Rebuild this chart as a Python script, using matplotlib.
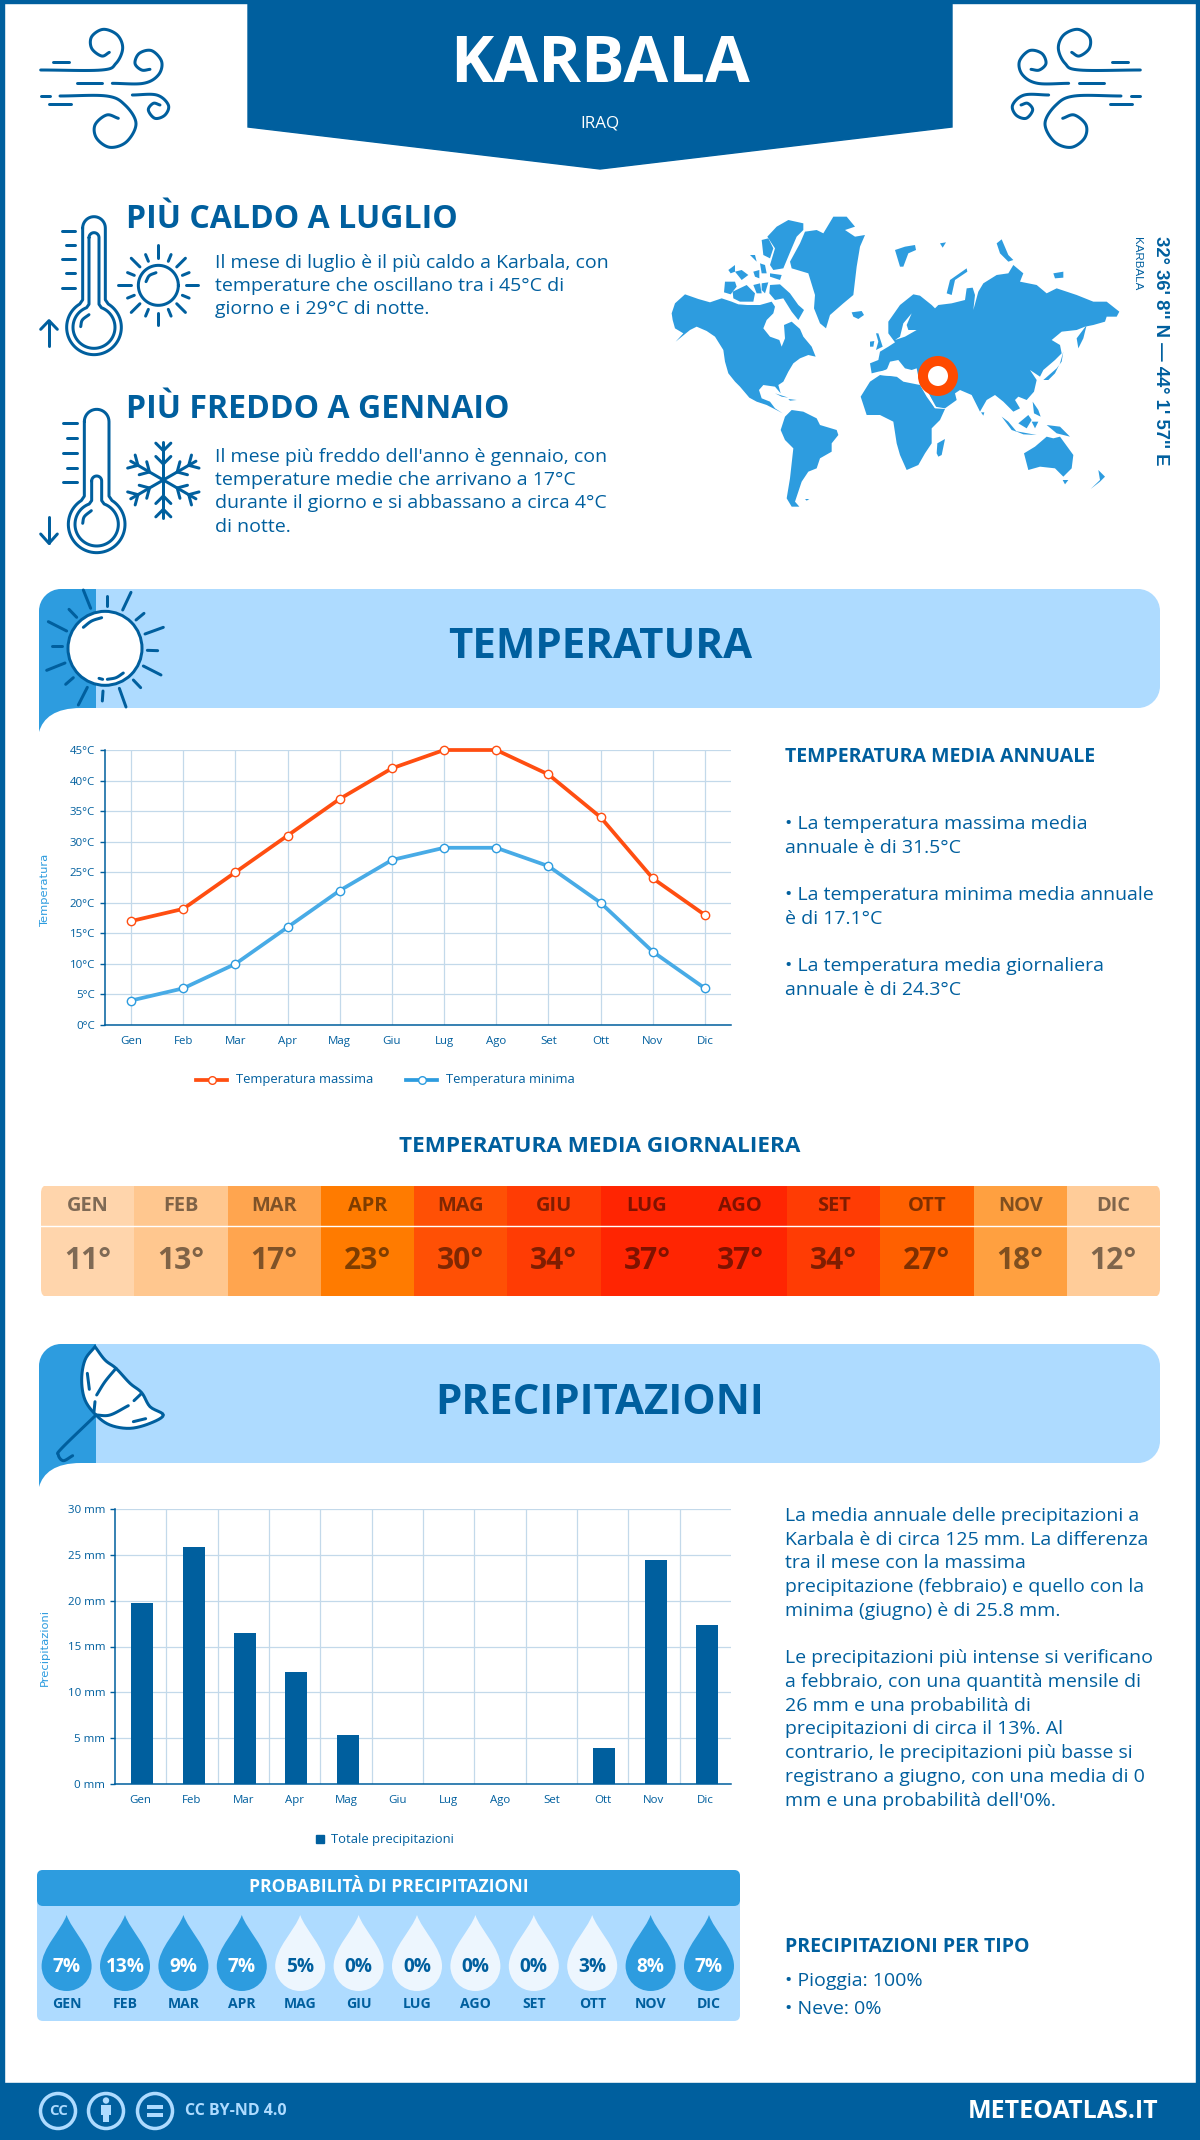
import numpy as np
import matplotlib
matplotlib.use('Agg')
import matplotlib.pyplot as plt
from matplotlib.patches import Polygon, Rectangle, Circle, FancyBboxPatch, PathPatch
from matplotlib.path import Path

plt.rcParams['font.family'] = ['Open Sans', 'DejaVu Sans']

W, H = 1200, 2140
NAVY = '#005F9E'; BLUE = '#2D9CDF'; LIGHT = '#AEDBFF'; ORANGE = '#FF4E11'; GRID = '#C3D9EA'

months = ['Gen','Feb','Mar','Apr','Mag','Giu','Lug','Ago','Set','Ott','Nov','Dic']
months_upper = [m.upper() for m in months]
temp_max = [17,19,25,31,37,42,45,45,41,34,24,18]
temp_min = [4,6,10,16,22,27,29,29,26,20,12,6]
temp_avg = [11,13,17,23,30,34,37,37,34,27,18,12]
avg_colors = ['#FFD5AC','#FFC78F','#FFA54F','#FF7B00','#FF5005','#FF3C04','#FF2502','#FF2502','#FF3C04','#FF6000','#FFA040','#FFCC99']
precip = [19.8,25.9,16.5,12.2,5.4,0,0,0,0,3.9,24.4,17.3]
precip_prob = [7,13,9,7,5,0,0,0,0,3,8,7]

fig = plt.figure(figsize=(12, 21.4), dpi=100, facecolor='white')
L = fig.add_axes([0, 0, 1, 1]); L.set_xlim(0, W); L.set_ylim(H, 0); L.axis('off')

def px(v): return v * 0.72
def T(x, y, s, size, color=NAVY, weight='normal', ha='left', va='center', **k):
    return L.text(x, y, s, fontsize=px(size), color=color, fontweight=weight, ha=ha, va=va, **k)

def smooth(pts, n=12):
    p = np.array(pts, float)
    if len(p) < 3: return p
    q = np.vstack([2*p[0]-p[1], p, 2*p[-1]-p[-2]])
    out = []
    for i in range(1, len(q)-2):
        for t in np.linspace(0, 1, n, endpoint=False):
            a, b, c, d = q[i-1], q[i], q[i+1], q[i+2]
            out.append(0.5*((2*b)+(-a+c)*t+(2*a-5*b+4*c-d)*t**2+(-a+3*b-3*c+d)*t**3))
    out.append(p[-1])
    return np.array(out)

def crop(pts, ox, oy): return [(ox + x/3, oy + y/3) for x, y in pts]
def stroke(pts, ox=0, oy=0, lw=3, color=NAVY, curved=True, z=3):
    pp = crop(pts, ox, oy)
    a = smooth(pp) if curved else np.array(pp)
    L.plot(a[:,0], a[:,1], color=color, lw=px(lw), solid_capstyle='round', solid_joinstyle='round', zorder=z)

# frame and header
L.add_patch(Rectangle((0, 0), W, 3, color=NAVY))
L.add_patch(Rectangle((0, 0), 4, H, color=NAVY))
L.add_patch(Rectangle((W-4, 0), 4, H, color=NAVY))
L.add_patch(Rectangle((0, 2083), W, 57, color=NAVY))
L.add_patch(Polygon([(248,0),(952,0),(952,127),(600,169),(248,127)], color=NAVY))
T(600, 65, 'KARBALA', 65, 'white', 'bold', ha='center')
T(600, 124, 'IRAQ', 17, 'white', ha='center')

# wind icons
wind = [
 [(32,150),(215,150),(258,130),(278,85),(262,45),(220,28),(185,50),(185,85),(215,108),(238,97)],
 [(70,125),(118,125)], [(140,190),(215,190)],
 [(247,190),(340,190),(385,165),(395,125),(365,92),(328,100),(315,130),(335,150),(360,148)],
 [(32,228),(60,228)],
 [(90,228),(230,228),(285,255),(318,310),(290,365),(240,382),(200,355),(195,315),(230,285),(265,295)],
 [(57,253),(122,253)],
 [(307,225),(380,225),(415,255),(405,285),(375,295),(355,270),(370,250),(390,255)],
]
for s in wind:
    stroke(s, 30, 20)
    m = [(3*(1181-(30+x/3)), y) for x, y in s]
    stroke(m, 0, 20)

# thermometers
def thermo(cx, cy, R, hw, ytop, ox, oy):
    a = np.arcsin(hw/R)
    yj = cy - R*np.cos(a) - 8
    th = np.linspace(np.pi, 0, 20)
    top = [(cx+hw*np.cos(t), ytop+hw-hw*np.sin(t)) for t in th]
    ang = np.linspace(-np.pi/2+a+0.12, 1.5*np.pi-a-0.12, 70)
    bulb = [(cx+R*np.cos(t), cy+R*np.sin(t)) for t in ang]
    pts = top + [(cx+hw, yj)] + bulb + [(cx-hw, yj)] + [top[0]]
    stroke(pts, ox, oy, curved=False)
def ticks(ys, ox, oy, x2, lens):
    for y, l in zip(ys, lens):
        stroke([(x2-l, y), (x2, y)], ox, oy, curved=False)

thermo(192, 352, 82, 34, 20, 30, 210)
thermo(192, 352, 63, 15, 68, 30, 210)
stroke([(152,350),(157,330),(177,314)], 30, 210)
ticks([63,105,148,190,233], 30, 210, 135, [38,28,38,28,38])
stroke([(57,408),(57,332)], 30, 210, curved=False)
stroke([(32,358),(57,332),(82,358)], 30, 210, curved=False)
c = (385, 226)
th = np.linspace(0, 2*np.pi, 60)
stroke([(c[0]+60*np.cos(t), c[1]+60*np.sin(t)) for t in th], 30, 210, curved=False)
stroke([(348,215),(358,197),(378,188)], 30, 210)
for i in range(16):
    a = i*np.pi/8
    if i % 4 == 0: r1, r2 = 82, 120
    elif i % 2 == 0: r1, r2 = 78, 115
    else: r1, r2 = 78, 100
    stroke([(c[0]+r1*np.cos(a), c[1]+r1*np.sin(a)), (c[0]+r2*np.cos(a), c[1]+r2*np.sin(a))], 30, 210, curved=False)

thermo(200, 373, 85, 37, 28, 30, 400)
thermo(200, 373, 65, 15, 228, 30, 400)
stroke([(158,370),(163,350),(184,332)], 30, 400)
ticks([70,115,159,203,247], 30, 400, 140, [40,28,40,28,40])
stroke([(57,350),(57,430)], 30, 400, curved=False)
stroke([(32,402),(57,430),(82,402)], 30, 400, curved=False)
sc = (400, 240)
for i in range(6):
    a = np.pi/2 + i*np.pi/3
    u = np.array([np.cos(a), np.sin(a)])
    stroke([sc, tuple(np.array(sc)+113*u)], 30, 400, curved=False)
    for r, l in [(88, 32), (48, 32)]:
        b = np.array(sc)+r*u
        for s in (-1, 1):
            v = np.array([np.cos(a+s*np.pi/4), np.sin(a+s*np.pi/4)])
            stroke([tuple(b), tuple(b+l*v)], 30, 400, curved=False)

# headings
T(125.5, 220, 'PIÙ CALDO A LUGLIO', 32, weight='bold')
for y, s in zip([263,286,309], ['Il mese di luglio è il più caldo a Karbala, con',
                                'temperature che oscillano tra i 45°C di',
                                'giorno e i 29°C di notte.']):
    T(215, y, s, 19.5)
T(125.5, 410, 'PIÙ FREDDO A GENNAIO', 32, weight='bold')
for y, s in zip([457,480,503,527], ["Il mese più freddo dell'anno è gennaio, con",
                                    'temperature medie che arrivano a 17°C',
                                    'durante il giorno e si abbassano a circa 4°C',
                                    'di notte.']):
    T(215, y, s, 19.5)

# world map
M = '#2D9CDF'
west = [
 [(35,325),(45,295),(75,268),(115,282),(150,292),(185,280),(215,290),(235,298),(262,300),(300,300),(335,290),(345,305),(340,325),(320,345),(310,370),(330,395),(358,405),(365,425),(375,400),(372,360),(395,350),(420,372),(430,395),(455,425),(467,455),(445,450),(420,460),(400,475),(385,500),(370,530),(355,540),(362,565),(345,545),(310,540),(297,555),(305,580),(330,590),(345,610),(368,625),(355,618),(320,600),(290,590),(268,578),(240,545),(225,530),(205,505),(195,470),(190,435),(165,395),(140,378),(110,365),(90,375),(47,410),(70,385),(45,370),(38,345)],
 [(362,675),(375,635),(395,615),(430,620),(470,640),(480,660),(530,675),(535,690),(515,715),(515,740),(480,760),(470,790),(445,800),(425,830),(415,860),(405,890),(418,905),(395,905),(380,880),(390,820),(400,730),(375,705)],
 [(390,170),(420,115),(435,80),(470,75),(490,85),(520,35),(560,35),(585,65),(555,75),(585,95),(615,90),(600,125),(590,185),(580,270),(550,295),(510,330),(498,370),(480,355),(462,310),(465,270),(445,205),(395,190)],
 [(322,95),(350,65),(385,45),(430,55),(430,75),(410,95),(395,130),(370,190),(340,195),(330,180),(345,130),(335,115)],
 [(330,240),(360,238),(390,265),(415,300),(432,315),(415,345),(395,320),(370,280),(345,285),(328,265)],
 [(218,260),(260,240),(285,265),(280,290),(240,290),(220,280)],
 [(195,230),(225,230),(230,245),(212,268),(192,262)],
 [(205,195),(225,180),(225,200),(212,205)], [(225,200),(245,195),(265,210),(245,225)],
 [(280,200),(298,195),(298,220),(285,215)], [(305,235),(325,232),(315,265),(305,255)],
 [(280,240),(300,235),(305,265),(290,265)], [(305,105),(325,100),(340,130),(330,160),(310,150)],
 [(330,205),(365,210),(360,225),(330,215)], [(270,150),(285,150),(290,170)], [(300,175),(315,180),(320,205),(305,205)],
 [(575,322),(605,318),(612,330),(595,342),(580,335)],
 [(345,565),(385,578),(365,575)], [(385,582),(410,585),(390,587)], [(435,882),(448,882),(440,887)],
 [(648,385),(655,385),(668,425),(648,435),(655,410)], [(630,410),(643,408),(640,425),(630,425)],
]
east = [
 [(-30,475),(-5,465),(0,440),(25,425),(45,412),(25,385),(25,350),(60,300),(100,268),(120,272),(155,300),(165,310),(175,300),(215,295),(255,285),(260,250),(278,248),(285,270),(280,315),(295,260),(310,235),(350,210),(385,205),(400,180),(430,205),(420,230),(470,240),(500,265),(530,250),(590,270),(640,290),(680,290),(718,320),(710,335),(680,335),(675,350),(640,360),(615,365),(590,375),(545,380),(515,405),(540,420),(545,445),(525,465),(490,495),(480,515),(450,495),(470,525),(462,560),(440,585),(415,575),(405,585),(420,610),(400,620),(385,605),(370,590),(345,570),(320,585),(300,620),(275,570),(240,555),(225,565),(230,585),(195,610),(165,605),(145,565),(120,540),(110,490),(95,495),(75,490),(55,465),(30,470),(20,495),(-5,500),(-25,505)],
 [(-58,575),(-30,530),(0,510),(50,515),(70,530),(120,540),(140,575),(165,610),(195,612),(180,645),(155,670),(155,715),(135,745),(115,780),(80,795),(60,750),(50,715),(40,650),(0,630),(-40,630)],
 [(170,745),(172,715),(195,702),(185,750),(175,755)],
 [(432,745),(465,725),(500,695),(520,700),(540,695),(580,750),(575,790),(550,815),(525,790),(480,785),(445,795)],
 [(548,825),(565,825),(555,838)], [(655,795),(675,815),(660,830),(632,852),(660,825)],
 [(365,635),(385,650),(410,680),(395,675)], [(405,678),(470,690),(430,688)],
 [(415,655),(445,630),(455,645),(440,670)], [(455,650),(475,650),(465,670)],
 [(500,660),(540,665),(570,695),(530,685)], [(458,590),(475,615),(482,635),(462,625)],
 [(490,525),(530,490),(545,470),(550,440),(540,475),(525,505),(505,525)],
 [(590,400),(620,360),(610,400),(595,430)], [(303,622),(313,622),(310,632)],
 [(45,135),(75,125),(105,120),(108,135),(85,145),(70,185),(60,185)], [(180,115),(198,112),(188,128)],
 [(200,265),(210,225),(260,190),(262,200),(225,225),(215,270)],
 [(350,115),(365,103),(385,150),(400,165),(385,170),(360,145)],
 [(520,205),(550,200),(550,218),(525,220)],
]
for p in west: L.add_patch(Polygon(crop(p, 660, 205), color=M, lw=0))
for p in east: L.add_patch(Polygon(crop(p, 880, 205), color=M, lw=0))
L.add_patch(Polygon(crop([(95,325),(70,355),(60,395),(45,405),(75,395),(110,375),(85,375),(80,360)], 880, 205), color='white', lw=0))
L.add_patch(Polygon(crop([(-5,505),(50,478),(80,500),(110,510),(110,520),(60,515),(0,510)], 880, 205), color='white', lw=0))
L.plot(*zip(*crop([(140,560),(165,605)], 880, 205)), color='white', lw=1.2)
L.add_patch(Circle((938, 376), 15, fc='white', ec='#FF4A00', lw=px(10), zorder=4))
T(1161, 351, "32° 36' 8'' N — 44° 1' 57'' E", 18.5, weight='bold', ha='center', rotation=-90, family='Liberation Sans')
T(1137, 264, 'KARBALA', 11.5, ha='center', rotation=-90, family='Liberation Sans')

# section bands
def band(y0, y1):
    x0, x1, xb, r = 39, 1160, 96, 22
    k = 0.55
    v = [(xb,y0),(x1-r,y0),(x1-r+k*r,y0),(x1,y0+r-k*r),(x1,y0+r),(x1,y1-r),(x1,y1-r+k*r),(x1-r+k*r,y1),(x1-r,y1),(xb,y1),(xb,y0)]
    c_ = [Path.MOVETO,Path.LINETO,Path.CURVE4,Path.CURVE4,Path.CURVE4,Path.LINETO,Path.CURVE4,Path.CURVE4,Path.CURVE4,Path.LINETO,Path.CLOSEPOLY]
    L.add_patch(PathPatch(Path(v, c_), fc=LIGHT, lw=0))
    v = [(xb,y0),(x0+r,y0),(x0+r-k*r,y0),(x0,y0+r-k*r),(x0,y0+r),(x0,y1+24),(x0+4,y1+10),(x0+16,y1),(x0+42,y1),(xb,y1),(xb,y0)]
    c_ = [Path.MOVETO,Path.LINETO,Path.CURVE4,Path.CURVE4,Path.CURVE4,Path.LINETO,Path.CURVE4,Path.CURVE4,Path.CURVE4,Path.LINETO,Path.CLOSEPOLY]
    L.add_patch(PathPatch(Path(v, c_), fc=BLUE, lw=0))
band(589, 708)
band(1344, 1463)
T(600, 648, 'TEMPERATURA', 42, weight='bold', ha='center')
T(600, 1404, 'PRECIPITAZIONI', 42, weight='bold', ha='center')

# sun in the band
L.add_patch(Circle((30+225/3, 585+190/3), 37, fc='white', ec=NAVY, lw=px(3), zorder=3))
for s in [[(160,15),(182,70)],[(230,32),(230,62)],[(303,22),(278,75)],[(342,85),(318,105)],[(400,127),(345,147)],[(383,197),(352,196)],[(393,270),(340,243)],[(332,308),(310,285)],[(288,366),(268,310)],[(217,348),(219,318)],[(145,360),(172,307)],[(107,298),(130,278)],[(50,256),(105,234)],[(67,184),(97,184)],[(55,110),(110,138)],[(117,73),(140,97)]]:
    stroke(s, 30, 585, curved=False)
stroke([(160,127),(185,108),(215,98)], 30, 585, z=5)
stroke([(232,283),(258,278),(280,264)], 30, 585, z=5)
stroke([(207,280),(218,283)], 30, 585, z=5)

# umbrella
canopy = [(195,20),(225,60),(258,85),(300,130),(335,158),(360,200),(400,225),(360,250),(300,265),(240,255),(198,225),(165,180),(155,120),(165,60),(195,20)]
a = np.array(crop(canopy, 30, 1340))
L.add_patch(Polygon(smooth(a.tolist(), 6), fc='white', ec=NAVY, lw=px(3), zorder=3))
for s in [[(198,225),(95,325),(85,345),(100,362),(128,347)]]:
    stroke(s, 30, 1340)
for s in [[(258,85),(225,125),(200,165)],[(195,185),(192,215)],[(198,225),(240,225),(295,197)],[(312,182),(335,160)],[(172,100),(178,148)],[(310,245),(347,236)]]:
    stroke(s, 30, 1340, z=5)

# temperature chart
def make_ax(l, t, r, b):
    ax = fig.add_axes([l/W, 1-b/H, (r-l)/W, (b-t)/H]); ax.patch.set_alpha(0)
    for s in ('top', 'right'): ax.spines[s].set_visible(False)
    for s in ('left', 'bottom'): ax.spines[s].set_color(NAVY); ax.spines[s].set_linewidth(1.1)
    ax.tick_params(axis='y', colors=NAVY, labelsize=px(11.5), length=3.6, width=1, pad=3.6)
    ax.tick_params(axis='x', colors=NAVY, labelsize=px(11.5), length=0, pad=8)
    return ax
ax = make_ax(105, 750, 731, 1025)
x = np.arange(12)
ax.set_xlim(-0.5, 11.5); ax.set_ylim(0, 45)
ax.set_yticks(range(0, 50, 5)); ax.set_yticklabels([f'{v}°C' for v in range(0, 50, 5)])
ax.set_xticks(x); ax.set_xticklabels(months)
ax.grid(True, color=GRID, lw=0.9); ax.set_axisbelow(True)
ax.plot(x, temp_max, color=ORANGE, lw=2.7, marker='o', ms=6, mfc='white', mec=ORANGE, mew=1, clip_on=False, label='Temperatura massima')
ax.plot(x, temp_min, color='#48ABE6', lw=2.7, marker='o', ms=6, mfc='white', mec='#2D9CDF', mew=1, clip_on=False, label='Temperatura minima')
T(45, 889, 'Temperatura', 11.5, BLUE, ha='center', rotation=90, family='DejaVu Sans')
for hx, tx, col, s in [(196, 236, ORANGE, 'Temperatura massima'), (406, 446, BLUE, 'Temperatura minima')]:
    L.plot([hx, hx+31], [1080, 1080], color=col, lw=2.7)
    L.plot([hx+15.5], [1080], 'o', ms=5.5, mfc='white', mec=col, mew=1)
    T(tx, 1080, s, 13)

T(785, 757, 'TEMPERATURA MEDIA ANNUALE', 19.5, weight='bold')
for y, s in zip([824,848,895,919,966,990],
                ['• La temperatura massima media','annuale è di 31.5°C',
                 '• La temperatura minima media annuale','è di 17.1°C',
                 '• La temperatura media giornaliera','annuale è di 24.3°C']):
    T(785, y, s, 19.5)

T(600, 1147, 'TEMPERATURA MEDIA GIORNALIERA', 22.5, weight='bold', ha='center')

# daily temperature strip
ax2 = fig.add_axes([41/W, 1-1296/H, 1119/W, 110/H]); ax2.axis('off')
ax2.set_xlim(-0.5, 11.5); ax2.set_ylim(0, 1)
bars = ax2.bar(x, 1, width=1.0, bottom=0, color=avg_colors, lw=0)
clip = FancyBboxPatch((-0.5+0.03, 0.03), 11.94, 0.94, boxstyle='round,pad=0.03,rounding_size=0.06', transform=ax2.transData, fc='none', ec='none', mutation_aspect=110/93.25)
ax2.add_patch(clip)
for b in bars: b.set_clip_path(clip)
ax2.axhline(1-39.5/110, color='white', lw=1)
for i in range(12):
    ax2.text(i, 1-20/110, months_upper[i], fontsize=px(20), fontweight='bold', color='black', alpha=0.5, ha='center', va='center')
    ax2.text(i, 1-75/110, f'{temp_avg[i]}°', fontsize=px(30), fontweight='bold', color='black', alpha=0.5, ha='center', va='center')

# precipitation chart
ax3 = make_ax(115, 1509, 731, 1784)
ax3.set_xlim(-0.5, 11.5); ax3.set_ylim(0, 30)
ax3.set_yticks(range(0, 35, 5)); ax3.set_yticklabels([f'{v} mm' for v in range(0, 35, 5)])
ax3.set_xticks(x); ax3.set_xticklabels(months)
ax3.set_xticks(x[:-1]+0.5, minor=True); ax3.tick_params(axis='x', which='minor', length=0)
ax3.grid(False)
ax3.grid(True, axis='y', color=GRID, lw=0.9)
ax3.grid(True, axis='x', which='minor', color=GRID, lw=0.9)
ax3.set_axisbelow(True)
ax3.bar(x+0.03, precip, width=0.43, color=NAVY, label='Totale precipitazioni')
T(45, 1647, 'Precipitazioni', 11.5, BLUE, ha='center', rotation=90, family='DejaVu Sans')
L.add_patch(Rectangle((316, 1835), 8, 8, color=NAVY))
T(331, 1839, 'Totale precipitazioni', 13)

para = ['La media annuale delle precipitazioni a','Karbala è di circa 125 mm. La differenza',
        'tra il mese con la massima','precipitazione (febbraio) e quello con la',
        'minima (giugno) è di 25.8 mm.',
        'Le precipitazioni più intense si verificano','a febbraio, con una quantità mensile di',
        '26 mm e una probabilità di','precipitazioni di circa il 13%. Al',
        'contrario, le precipitazioni più basse si','registrano a giugno, con una media di 0',
        "mm e una probabilità dell'0%."]
for y, s in zip([1516,1540,1563,1587,1611,1658,1682,1706,1729.5,1753,1777.5,1801], para):
    T(785, y, s, 19.5)

# probability panel
L.add_patch(FancyBboxPatch((40, 1873), 697, 145, boxstyle='round,pad=3,rounding_size=6', fc=LIGHT, lw=0))
L.add_patch(FancyBboxPatch((40, 1873), 697, 30, boxstyle='round,pad=3,rounding_size=6', fc=BLUE, lw=0))
L.add_patch(Rectangle((37, 1895), 703, 6, color=BLUE, lw=0))
T(389, 1887, 'PROBABILITÀ DI PRECIPITAZIONI', 17.5, 'white', 'bold', ha='center')
def drop(cx, color):
    t, m, b, r = 1915, 1966, 1991, 25
    v = [(cx,t),(cx+5,1930),(cx+r,1948),(cx+r,m),(cx+r,1980),(cx+14,b),(cx,b),(cx-14,b),(cx-r,1980),(cx-r,m),(cx-r,1948),(cx-5,1930),(cx,t)]
    c_ = [Path.MOVETO]+[Path.CURVE4]*12
    L.add_patch(PathPatch(Path(v, c_), fc=color, lw=0))
for i, p in enumerate(precip_prob):
    cx = 66.6 + 58.4*i
    dark = p >= 7
    drop(cx, BLUE if dark else '#EDF6FE')
    T(cx, 1967, f'{p}%', 19, 'white' if dark else NAVY, 'bold', ha='center')
    T(cx, 2004.5, months_upper[i], 14, NAVY, 'bold', ha='center')

T(785, 1947, 'PRECIPITAZIONI PER TIPO', 19.5, weight='bold')
T(785, 1981, '• Pioggia: 100%', 19.5)
T(785, 2009, '• Neve: 0%', 19.5)

# footer
for cxx in (58, 106, 155):
    L.add_patch(Circle((cxx, 2111), 17.5, fc='none', ec=LIGHT, lw=px(3.5)))
T(58, 2111, 'CC', 15, LIGHT, 'bold', ha='center')
L.add_patch(Circle((106, 2100.5), 3.2, color=LIGHT, lw=0))
L.add_patch(Rectangle((101, 2105), 10, 10, color=LIGHT, lw=0))
L.add_patch(Rectangle((103, 2113), 6, 9, color=LIGHT, lw=0))
L.add_patch(Rectangle((147, 2105), 16, 3.5, color=LIGHT, lw=0))
L.add_patch(Rectangle((147, 2113), 16, 3.5, color=LIGHT, lw=0))
T(185, 2111, 'CC BY-ND 4.0', 16, LIGHT, 'bold')
T(1158, 2111, 'METEOATLAS.IT', 25, 'white', 'bold', ha='right')

fig.savefig('out.png', dpi=100, facecolor='white')
